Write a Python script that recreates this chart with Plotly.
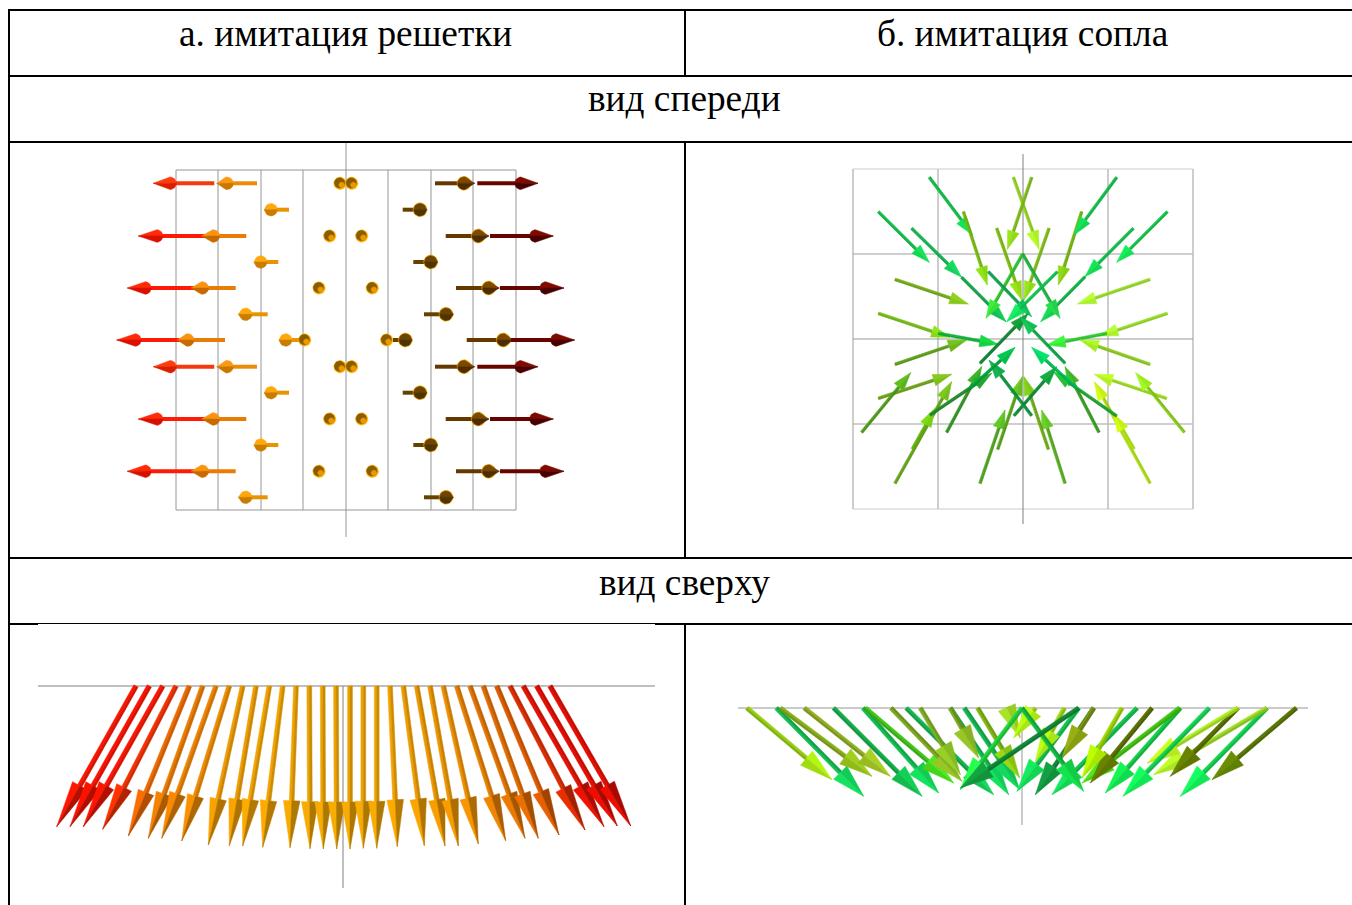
import math
import plotly.graph_objects as go

W, H = 1352, 905

# ---------- text ----------
header_left = "а. имитация решетки"
header_right = "б. имитация сопла"
row_front = "вид спереди"
row_top = "вид сверху"

# ---------- panel A: front view, grid imitation (units: centred, horizontal vectors) ----------
a_levels = [156.7, 130.3, 104, 78, 52, 25.7, 0, -26.7, -52.7, -79, -105, -131.3, -157.3]
a_pattern_of_level = [0, 1, 2, 3, 4, 5, 6, 0, 1, 2, 3, 4, 5]
a_tails = [
    [-131.7, -89, -6, 5.7, 89, 131.3],
    [-57, 56.7],
    [-141, -99.7, -16.3, 15.7, 99.7, 144],
    [-67.7, 67.3],
    [-152, -110.3, -27, 26.3, 110, 154],
    [-78.3, 78],
    [-163, -121, -46, -41.3, 40.7, 47, 120.7, 165],
]
a_heads = [
    [-176, -119, -6, 5.7, 118, 175],
    [-75, 74],
    [-189.3, -132.7, -16.3, 15.7, 132.3, 189.7],
    [-85.3, 84.7],
    [-201, -143.7, -27, 26.3, 142.7, 200],
    [-100.3, 100],
    [-211, -158.3, -60.3, -41.3, 40.7, 59.3, 157.3, 210.7],
]
a_tips = [
    [-192.7, -129.3, -6, 5.7, 128.7, 192],
    [-81, 80.7],
    [-207.7, -144.3, -16.3, 15.7, 143, 207.3],
    [-92, 91],
    [-218.7, -155, -27, 26.3, 153.3, 218],
    [-107.7, 107.3],
    [-229.3, -168.7, -63, -41.3, 40.7, 62, 167, 228.7],
]
a_kinds = [
    ["red1", "orange1", "ball", "ball", "brown", "maroon"],
    ["amber", "umber"],
    ["red", "orange", "ball", "ball", "brown", "maroon"],
    ["amber", "umber"],
    ["red", "orange", "ball", "ball", "brown", "maroon"],
    ["amber", "umber"],
    ["red", "orange", "amber", "ball", "ball", "umber", "brown", "maroon"],
]
a_grid_x = [-170, -128, -85, -43, 42, 85, 127, 170]
a_grid_y = [170, -170]
a_axis_y = [198, -197]

# ---------- panel B: front view, nozzle imitation ----------
b_tail_x = [-281, -434, -334, -184, -179, -79, -29, 26, 78, 176, 281, 433, 331, 186, -1, -1, -104, 103,
            -384, 381, -434, -254, 433, 251, -384, 381, -434, 431, -484, 484, -384, 381, -229, 228,
            -332, 333, -279, 281, -129, 126, -76, 76, -27, 26, -129, 126, -159, 161]
b_tail_y = [485, 382, 332, 185, 382, 332, 485, 485, 332, 382, 485, 382, 332, 187, 255, 255, 202, 202,
            179, 179, 77, 17, 77, 17, -76, -76, -178, -178, -280, -280, -433, -433, -280, -280,
            -330, -330, -228, -231, -433, -433, -331, -331, -230, -230, -73, -73, -148, -148]
b_tip_x = [-151, -281, -184, -51, -107, -4, 48, -47, 3, 106, 153, 281, 186, 53, -111, 111, 26, -49,
           -164, 163, -219, -74, 229, 71, -169, 171, -214, 214, -337, 338, -214, 214, -124, 126,
           -264, 271, -94, 91, -54, 56, -2, 3, 101, -102, 16, -9, -24, 26]
b_tip_y = [312, 230, 185, 52, 162, 117, 269, 269, 117, 162, 312, 230, 187, 52, 62, 62, 67, 52,
           105, 105, 5, -16, 9, -18, -3, -3, -106, -106, -101, -101, -128, -128, -83, -83,
           -208, -223, -103, -98, -213, -213, -113, -113, -83, -63, 77, 67, -25, -25]
b_colors = ["#10c048", "#10c048", "#10b850", "#10a848", "#78c010", "#80c010", "#98d420", "#80c018",
            "#80c018", "#78b810", "#10c048", "#10c848", "#10c048", "#10b848", "#30c830", "#20b840",
            "#10a850", "#10c850", "#78b018", "#98e028", "#78c018", "#10b838", "#98e028", "#30d030",
            "#60a218", "#90d020", "#70a818", "#a0e020", "#509e18", "#88d018", "#68a818", "#b0e010",
            "#309820", "#38a020", "#68b810", "#b0e810", "#209028", "#20a830", "#50a820", "#58b020",
            "#58a818", "#70b018", "#109038", "#109840", "#108830", "#10a848", "#00a840", "#00c058"]
b_grid = [-510, -255, 255, 510]
b_axis_y = [555, -555]

# ---------- panel C: top view, grid imitation ----------
c_tail_x = [-207, -193.7, -180.3, -167, -153.7, -140.3, -127, -113.7, -100.3, -87, -73.7, -60.3, -47, -33.7, -20.3, -7,
            7, 20.3, 33.7, 47, 60.3, 73.7, 87, 100.3, 113.7, 127, 140.3, 153.7, 167, 180.3, 193.7, 207]
c_tip_x = [-286.3, -273, -259.7, -240.3, -214.7, -194.7, -181.3, -161.3, -134.7, -113.7, -100.3, -80.3, -53, -33, -19.7, -6.3,
           7, 20.3, 33.7, 54.3, 81.3, 102, 115.3, 135.3, 162.7, 182, 195.3, 216, 242, 261, 274.3, 287.7]
c_depth = [140.7, 140.7, 140.7, 143.3, 150, 152.3, 152.3, 155, 159, 159.7, 160, 161.3, 161.7, 162.7, 163, 163,
           163, 162.3, 162.3, 160.7, 159.7, 160, 160, 158, 154.7, 152.3, 152.3, 149, 144, 140.7, 140, 140]
c_colors = ["#ff1400", "#ff1000", "#ff1400", "#f83000", "#f06a00", "#ec7c00", "#f08400", "#f08c00",
            "#f09c00", "#f09e00", "#f4a400", "#f4a400", "#f0a400", "#eea400", "#eea400", "#eea400",
            "#eea400", "#eea400", "#eea400", "#f4a400", "#f09e00", "#ee9800", "#ee9600", "#ee9000",
            "#e88000", "#e47400", "#e26c00", "#e05c00", "#e02c00", "#e81000", "#e80c00", "#e80c00"]
c_axis_x = [-305, 312]
c_axis_depth = 202

# ---------- panel D: top view, nozzle imitation ----------
d_tail_x = [-825, -737, -725, -653, -565, -477, -470, -393, -347, -305, -215, -215, -173, -133, -45,
            823, 735, 735, 648, 648, 562, 475, 473, 390, 345, 300, 215, 215, 170, 127, 40, 0, 0, 170]
d_tip_x = [-570, -475, -450, -395, -300, -250, -205, -180, -85, -185, -40, -130, -7, -7, -5,
           570, 475, 395, 445, 375, 303, 250, 180, 205, 90, 180, 40, 120, -15, 40, -25, -185, 185, -185]
d_depth = [215, 265, 205, 205, 265, 255, 225, 220, 260, 200, 260, 150, 245, 210, 90,
           215, 265, 200, 205, 165, 265, 255, 225, 225, 260, 210, 260, 150, 250, 160, 90, 245, 250, 240]
d_colors = ["#98d010", "#10c050", "#88b018", "#90b020", "#10b048", "#10c050", "#40c818", "#80a820",
            "#10b850", "#80b020", "#10c050", "#80a820", "#10b850", "#80b810", "#90c020",
            "#5a7800", "#10d850", "#a0e020", "#5a7000", "#b0f020", "#10d850", "#10d048", "#40c810",
            "#5a7000", "#10c850", "#a0d800", "#108838", "#809410", "#10c850", "#a0d810", "#a0d810",
            "#20d840", "#10c040", "#108c38"]
d_axis_x = [-852, 858]
d_axis_depth = 351


def mix(color, other, t):
    c = [int(color[i:i + 2], 16) for i in (1, 3, 5)]
    o = [int(other[i:i + 2], 16) for i in (1, 3, 5)]
    return "#%02x%02x%02x" % tuple(round(a + (b - a) * t) for a, b in zip(c, o))


def bright(color, f):
    c = [int(color[i:i + 2], 16) for i in (1, 3, 5)]
    return "#%02x%02x%02x" % tuple(min(255, round(a * f)) for a in c)


fig = go.Figure()


def poly(ax, xs, ys, color, lw=0.5):
    fig.add_trace(go.Scatter(x=xs, y=ys, mode="lines", fill="toself", fillcolor=color,
                             line=dict(color=color, width=lw), hoverinfo="skip",
                             showlegend=False, xaxis=ax[0], yaxis=ax[1]))


def seg(ax, xs, ys, color, width):
    fig.add_trace(go.Scatter(x=xs, y=ys, mode="lines", line=dict(color=color, width=width),
                             hoverinfo="skip", showlegend=False, xaxis=ax[0], yaxis=ax[1]))


def arrow(ax, x0, y0, x1, y1, color, half_shaft, hl, hw, shaft_dark, head_f, head_dark):
    dx, dy = x1 - x0, y1 - y0
    L = math.hypot(dx, dy) or 1
    ux, uy = dx / L, dy / L
    nx, ny = -uy, ux
    if -nx + ny < 0:
        nx, ny = -nx, -ny
    bx, by = x1 - ux * hl, y1 - uy * hl
    # shaft: two lengthwise halves
    poly(ax, [x0 + nx * half_shaft, bx + nx * half_shaft, bx, x0, x0 + nx * half_shaft],
         [y0 + ny * half_shaft, by + ny * half_shaft, by, y0, y0 + ny * half_shaft], color)
    poly(ax, [x0 - nx * half_shaft, bx - nx * half_shaft, bx, x0, x0 - nx * half_shaft],
         [y0 - ny * half_shaft, by - ny * half_shaft, by, y0, y0 - ny * half_shaft],
         mix(color, "#000000", shaft_dark))
    # head: bright side and shaded side
    head = bright(color, head_f)
    poly(ax, [x1, bx + nx * hw, bx, x1], [y1, by + ny * hw, by, y1], head)
    poly(ax, [x1, bx - nx * hw, bx, x1], [y1, by - ny * hw, by, y1], mix(head, "#000000", head_dark))


def circle(cx, cy, r, n=24):
    return ([cx + r * math.cos(2 * math.pi * i / n) for i in range(n + 1)],
            [cy + r * math.sin(2 * math.pi * i / n) for i in range(n + 1)])


KIND = {
    "red": ("#ff1a06", "#ff2a08", "#d81000", None),
    "red1": ("#f43a0c", "#ff3c0c", "#d82000", None),
    "orange": ("#ea7c06", "#fa9410", "#c86a00", None),
    "orange1": ("#ec8c06", "#fb9a12", "#c87800", None),
    "amber": ("#e89400", "#ffa808", "#c87c00", None),
    "brown": ("#663800", "#7a4800", "#4e2c00", "#e8a000"),
    "maroon": ("#680400", "#800a00", "#4a0000", None),
    "umber": ("#664200", "#6a4400", "#4e3400", "#f0a000"),
}


def teardrop(ax, y, tail, head, tip, kind):
    shaft, top, bottom, ring = KIND[kind]
    r = 6.3
    s = 1 if tip > tail else -1
    d = max(abs(tip - head), r + 0.5)
    x_tip = head + s * d
    seg(ax, [tail, head], [y, y], shaft, 4)
    a = math.acos(r / d)
    n = 14
    up_x, up_y, lo_x, lo_y = [x_tip], [y], [x_tip], [y]
    for i in range(n + 1):
        ang = a + (math.pi - a) * i / n
        px = head + s * r * math.cos(ang)
        py = r * math.sin(ang)
        up_x.append(px); up_y.append(y + py)
        lo_x.append(px); lo_y.append(y - py)
    up_x.append(x_tip); up_y.append(y)
    lo_x.append(x_tip); lo_y.append(y)
    if ring:
        cx, cy = circle(head, y, r + 0.7)
        poly(ax, cx, cy, ring)
    poly(ax, up_x, up_y, top)
    poly(ax, lo_x, lo_y, bottom)


def ball(ax, y, x):
    cx, cy = circle(x, y, 6.2)
    poly(ax, cx, cy, "#ffb000")
    cx, cy = circle(x - 0.4, y + 0.4, 5.2)
    poly(ax, cx, cy, "#8a5c00")
    cx, cy = circle(x + 1.6, y - 1.6, 2.8)
    poly(ax, cx, cy, "#e89a00")


# ---- panel A
A = ("x", "y")
for gx in a_grid_x:
    seg(A, [gx, gx], [a_grid_y[0], a_grid_y[1]], "#969696", 1)
seg(A, [a_grid_x[0], a_grid_x[-1]], [a_grid_y[0], a_grid_y[0]], "#969696", 1)
seg(A, [a_grid_x[0], a_grid_x[-1]], [a_grid_y[1], a_grid_y[1]], "#969696", 1)
seg(A, [0, 0], a_axis_y, "#969696", 1)
for lvl, pat in zip(a_levels, a_pattern_of_level):
    for t, h, p, k in zip(a_tails[pat], a_heads[pat], a_tips[pat], a_kinds[pat]):
        if k == "ball":
            ball(A, lvl, h)
        else:
            teardrop(A, lvl, t, h, p, k)

# ---- panel B
B = ("x2", "y2")
for g in b_grid:
    seg(B, [g, g], [-510, 510], "#bcbcbc", 1.5)
    col = "#cccccc" if abs(g) == 510 else "#a0a0a0"
    seg(B, [-510, 510], [g, g], col, 1.2)
seg(B, [-510, 510], [0, 0], "#9a9a9a", 1.2)
seg(B, [0, 0], b_axis_y, "#808080", 1)
for x0, y0, x1, y1, c in zip(b_tail_x, b_tail_y, b_tip_x, b_tip_y, b_colors):
    arrow(B, x0, y0, x1, y1, c, 4.2, 56, 18, shaft_dark=0.1, head_f=1.2, head_dark=0.06)

# ---- panel C
C = ("x3", "y3")
seg(C, c_axis_x, [0, 0], "#808080", 1)
seg(C, [0, 0], [0, -c_axis_depth], "#808080", 1)
for x0, x1, d, c in zip(c_tail_x, c_tip_x, c_depth, c_colors):
    arrow(C, x0, 0, x1, -d, c, 2.4, 47, 8.3, shaft_dark=0.15, head_f=1.04, head_dark=0.3)

# ---- panel D
D = ("x4", "y4")
seg(D, d_axis_x, [0, 0], "#969696", 1)
seg(D, [0, 0], [0, -d_axis_depth], "#969696", 1)
for x0, x1, d, c in zip(d_tail_x, d_tip_x, d_depth, d_colors):
    arrow(D, x0, 0, x1, -d, c, 6.5, 100, 28, shaft_dark=0.15, head_f=1.18, head_dark=0.1)


def dom(a, b, size):
    return [a / size, b / size]


def ydom(top, bottom):
    return [1 - bottom / H, 1 - top / H]


def axis(domain, rng, anchor):
    return dict(domain=domain, range=rng, visible=False, fixedrange=True, anchor=anchor)


# table rules
rules = [
    (8, 10, 1352, 10, 2), (8, 76, 1352, 76, 2), (8, 142, 1352, 142, 2), (8, 558, 1352, 558, 2),
    (8, 624, 38, 624, 2), (38, 623.5, 655, 623.5, 1), (655, 624, 1352, 624, 2),
    (9, 9, 9, 905, 2), (685, 9, 685, 76, 2), (685, 142, 685, 558, 2), (685, 624, 685, 905, 2),
]
shapes = [dict(type="line", xref="paper", yref="paper", x0=a / W, x1=c / W, y0=1 - b / H, y1=1 - d / H,
               line=dict(color="#000000", width=w), layer="above") for a, b, c, d, w in rules]


def label(text, px, py):
    return dict(text=text, x=px / W, y=1 - py / H, xref="paper", yref="paper", xanchor="center",
                yanchor="middle", showarrow=False,
                font=dict(family="Liberation Serif", size=37.3, color="#000000"))


fig.update_layout(
    width=W, height=H, autosize=False, margin=dict(l=0, r=0, t=0, b=0),
    paper_bgcolor="#ffffff", plot_bgcolor="#ffffff", showlegend=False,
    xaxis=axis(dom(10, 684, W), [10 - 346, 684 - 346], "y"),
    yaxis=axis(ydom(143, 557), [340 - 557, 340 - 143], "x"),
    xaxis2=axis(dom(686, 1352, W), [(686 - 1023) * 3, (1352 - 1023) * 3], "y2"),
    yaxis2=axis(ydom(143, 557), [(339 - 557) * 3, (339 - 143) * 3], "x2"),
    xaxis3=axis(dom(10, 684, W), [10 - 343, 684 - 343], "y3"),
    yaxis3=axis(ydom(625, 905), [686 - 905, 686 - 625], "x3"),
    xaxis4=axis(dom(686, 1352, W), [(686 - 1022) * 3, (1352 - 1022) * 3], "y4"),
    yaxis4=axis(ydom(625, 905), [(708 - 905) * 3, (708 - 625) * 3], "x4"),
    shapes=shapes,
    annotations=[label(header_left, 346, 33.5), label(header_right, 1023, 33.5),
                 label(row_front, 685, 98.5), label(row_top, 685, 582.5)],
)

fig.write_html("out.html", config={"displayModeBar": False},
               post_script="document.body.style.margin='0';document.documentElement.style.overflow='hidden';")
